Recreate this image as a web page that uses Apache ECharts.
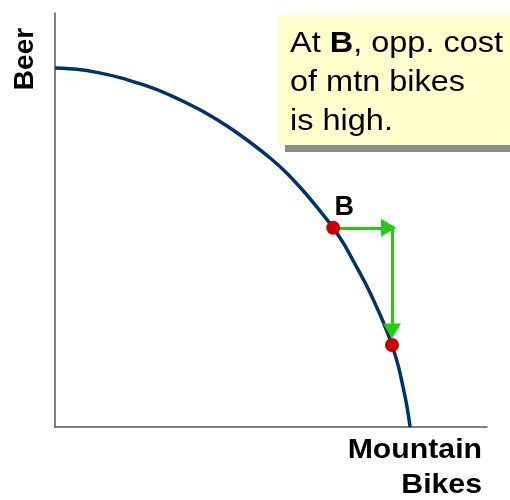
<!DOCTYPE html>
<html>
<head>
<meta charset="utf-8">
<script src="https://cdn.jsdelivr.net/npm/echarts@6/dist/echarts.min.js"></script>
<style>html,body{margin:0;padding:0;background:#fff}#c{width:510px;height:500px}</style>
</head>
<body>
<div id="c"></div>
<script>
// Production possibilities frontier
const curveX = [0, 5, 10, 15, 20, 25, 30, 35, 40, 45, 50, 53.5, 57, 60.5, 64.4, 67, 70, 72, 74, 76, 78, 79.5, 80.6, 81.5, 82.2];
const curveY = [86.7, 86.4, 85.6, 84.4, 82.8, 80.9, 78.5, 75.8, 72.6, 68.9, 64.8, 61.5, 57.6, 53.3, 48.1, 44.0, 38.3, 34.4, 30.0, 25.3, 19.8, 14.6, 9.5, 4.8, 0];
const pointsX = [64.4, 78.0];
const pointsY = [48.1, 19.8];
const pointLabels = ['B', ''];
// arrows: [x1, y1, x2, y2]
const arrowH = [64.4, 48.1, 77.2, 48.1];
const arrowV = [78.0, 48.6, 78.0, 23.2];
const xAxisTitle = ['Mountain', 'Bikes'];
const yAxisTitle = 'Beer';
const noteLines = ['{n|At }{b|B}{n|, opp. cost}', '{n|of mtn bikes}', '{n|is high.}'];

const chart = echarts.init(document.getElementById('c'), null, {renderer: 'canvas'});
const axisCommon = {
  type: 'value', min: 0, max: 100,
  axisLine: {show: true, lineStyle: {color: '#555', width: 1.5}},
  axisTick: {show: false}, axisLabel: {show: false}, splitLine: {show: false}
};
const green = '#22cc11';
const arrowLine = (a) => ({
  silent: true, symbol: ['none', 'triangle'], symbolSize: [18, 15],
  lineStyle: {color: green, width: 3, type: 'solid'},
  itemStyle: {color: green},
  label: {show: false},
  emphasis: {disabled: true},
  data: [[{coord: [a[0], a[1]]}, {coord: [a[2], a[3]]}]]
});
chart.setOption({
  animation: false,
  grid: {left: 55, right: 23, top: 13, bottom: 73},
  xAxis: axisCommon,
  yAxis: axisCommon,
  series: [
    {
      type: 'line', data: curveX.map((x, i) => [x, curveY[i]]),
      smooth: 0.2, showSymbol: false, symbol: 'none', silent: true,
      lineStyle: {color: '#003366', width: 3.5}, z: 2
    },
    {type: 'line', data: [], markLine: arrowLine(arrowH), z: 3},
    {type: 'line', data: [], markLine: arrowLine(arrowV), z: 3},
    {
      type: 'scatter', data: pointsX.map((x, i) => [x, pointsY[i]]),
      symbolSize: 14, itemStyle: {color: '#cc0000', opacity: 1}, z: 5, silent: true,
      label: {
        show: true, position: 'top', distance: 0,
        formatter: (p) => pointLabels[p.dataIndex],
        fontFamily: 'Liberation Sans, Arial, sans-serif', fontWeight: 'bold',
        fontSize: 27, color: '#000', offset: [11, 0]
      }
    }
  ],
  graphic: [
    {type: 'rect', shape: {x: 285, y: 22, width: 240, height: 130}, style: {fill: '#8c8c8c'}, z: 10},
    {type: 'rect', shape: {x: 278, y: 15, width: 240, height: 130}, style: {fill: '#ffffcc'}, z: 11},
    {
      type: 'text', x: 290, y: 24, scaleX: 1.12, z: 12,
      style: {
        text: noteLines.join('\n'),
        fill: '#000',
        font: '29px "Liberation Sans", Arial, sans-serif',
        lineHeight: 39,
        rich: {
          n: {fontSize: 29, fontFamily: 'Liberation Sans', lineHeight: 39, fill: '#000'},
          b: {fontSize: 29, fontFamily: 'Liberation Sans', fontWeight: 'bold', lineHeight: 39, fill: '#000'}
        }
      }
    },
    {
      type: 'text', x: 482, y: 433, scaleX: 1.08, originX: 0, z: 12,
      style: {
        text: xAxisTitle.join('\n'), align: 'right', verticalAlign: 'top',
        fill: '#000', font: 'bold 28px "Liberation Sans", Arial, sans-serif', lineHeight: 35
      }
    },
    {
      type: 'text', x: 25, y: 59, rotation: Math.PI / 2, z: 12,
      style: {
        text: yAxisTitle, align: 'center', verticalAlign: 'middle',
        fill: '#000', font: 'bold 28px "Liberation Sans", Arial, sans-serif'
      }
    }
  ]
});
</script>
</body>
</html>
